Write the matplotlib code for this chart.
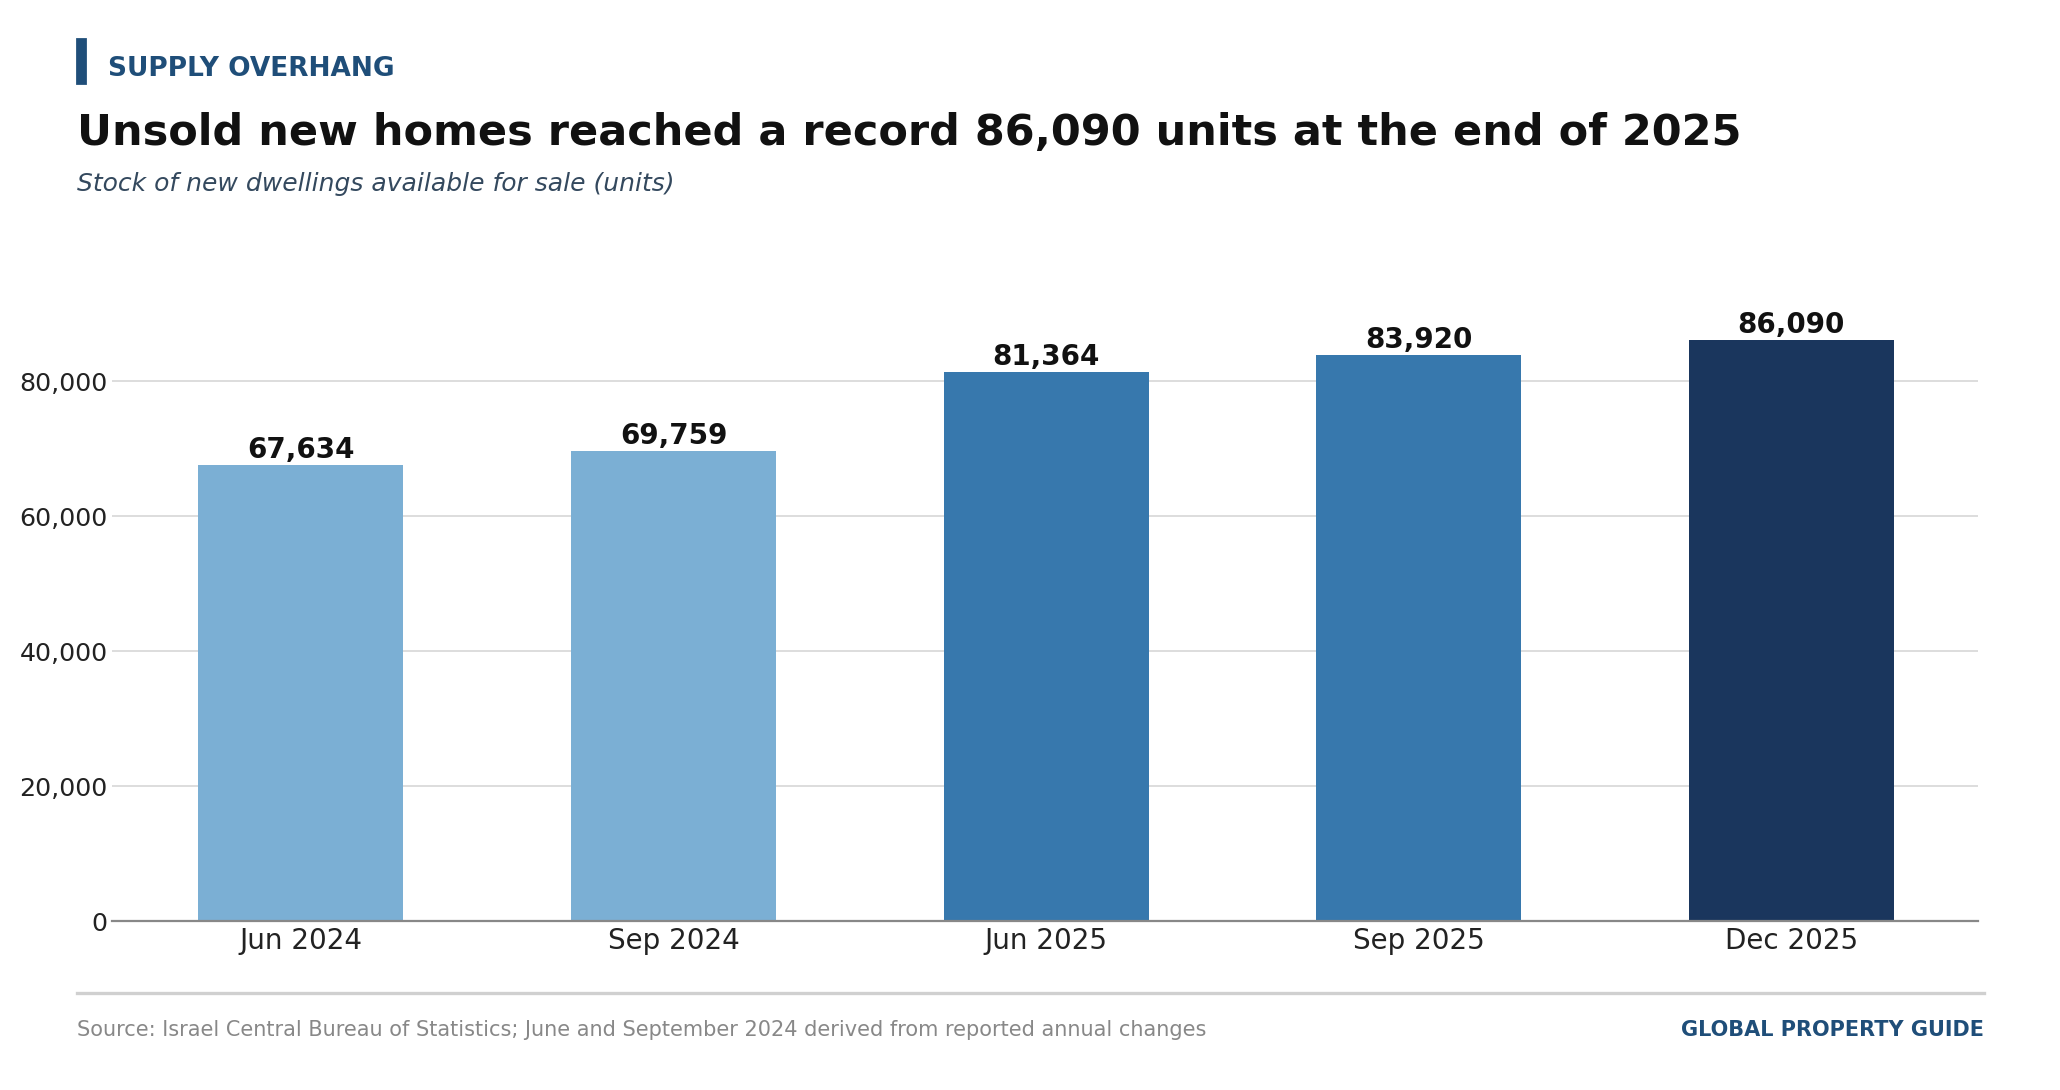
import matplotlib
matplotlib.use("Agg")
import matplotlib.pyplot as plt
from matplotlib.patches import Rectangle
from matplotlib.lines import Line2D
from matplotlib.ticker import FuncFormatter

periods = ["Jun 2024", "Sep 2024", "Jun 2025", "Sep 2025", "Dec 2025"]
unsold_units = [67634, 69759, 81364, 83920, 86090]
bar_colors = ["#7bafd4", "#7bafd4", "#3778ad", "#3778ad", "#1a365d"]

NAVY = "#1f4e79"

plt.rcParams["font.family"] = ["DejaVu Sans"]

fig = plt.figure(figsize=(10.3, 5.45), dpi=200)
ax = fig.add_axes([0.0542, 0.155, 0.9058, 0.586])

x = range(len(periods))
ax.bar(x, unsold_units, width=0.55, color=bar_colors, zorder=3)
for xi, v in zip(x, unsold_units):
    ax.text(xi, v + 150, f"{v:,}", ha="center", va="bottom",
            fontsize=10, fontweight="bold", color="#111111", zorder=4)

ax.set_xlim(-0.508, 4.5)
ax.set_ylim(0, 94700)
ax.set_yticks([0, 20000, 40000, 60000, 80000])
ax.yaxis.set_major_formatter(FuncFormatter(lambda v, _: f"{v:,.0f}"))
ax.set_xticks(list(x))
ax.set_xticklabels(periods, fontsize=10, color="#222222")
ax.tick_params(axis="y", labelsize=9.1, labelcolor="#222222", length=0, pad=1.5)
ax.tick_params(axis="x", length=0, pad=2)
ax.grid(axis="y", color="#dddddd", linewidth=0.7, zorder=0)
for s in ("top", "right", "left"):
    ax.spines[s].set_visible(False)
ax.spines["bottom"].set_color("#888888")
ax.spines["bottom"].set_linewidth(0.8)
ax.spines["bottom"].set_zorder(5)

# header
fig.add_artist(Rectangle((0.0372, 0.924), 0.0040, 0.040,
                         transform=fig.transFigure, color=NAVY))
fig.text(0.0526, 0.937, "SUPPLY OVERHANG", fontsize=9.5, fontweight="bold",
         color=NAVY, va="center", ha="left")
fig.text(0.0372, 0.878, "Unsold new homes reached a record 86,090 units at the end of 2025",
         fontsize=15.5, fontweight="bold", color="#111111", va="center", ha="left")
fig.text(0.0372, 0.831, "Stock of new dwellings available for sale (units)",
         fontsize=9, style="italic", color="#34495e", va="center", ha="left")

# footer
fig.add_artist(Line2D([0.0372, 0.963], [0.089, 0.089], transform=fig.transFigure,
                      color="#d0d0d0", linewidth=1.2))
fig.text(0.0372, 0.0554,
         "Source: Israel Central Bureau of Statistics; June and September 2024 derived from reported annual changes",
         fontsize=7.5, color="#888888", va="center", ha="left")
fig.text(0.963, 0.0554, "GLOBAL PROPERTY GUIDE", fontsize=7.5, fontweight="bold",
         color=NAVY, va="center", ha="right")

fig.savefig("out.png", dpi=200, facecolor="white")
